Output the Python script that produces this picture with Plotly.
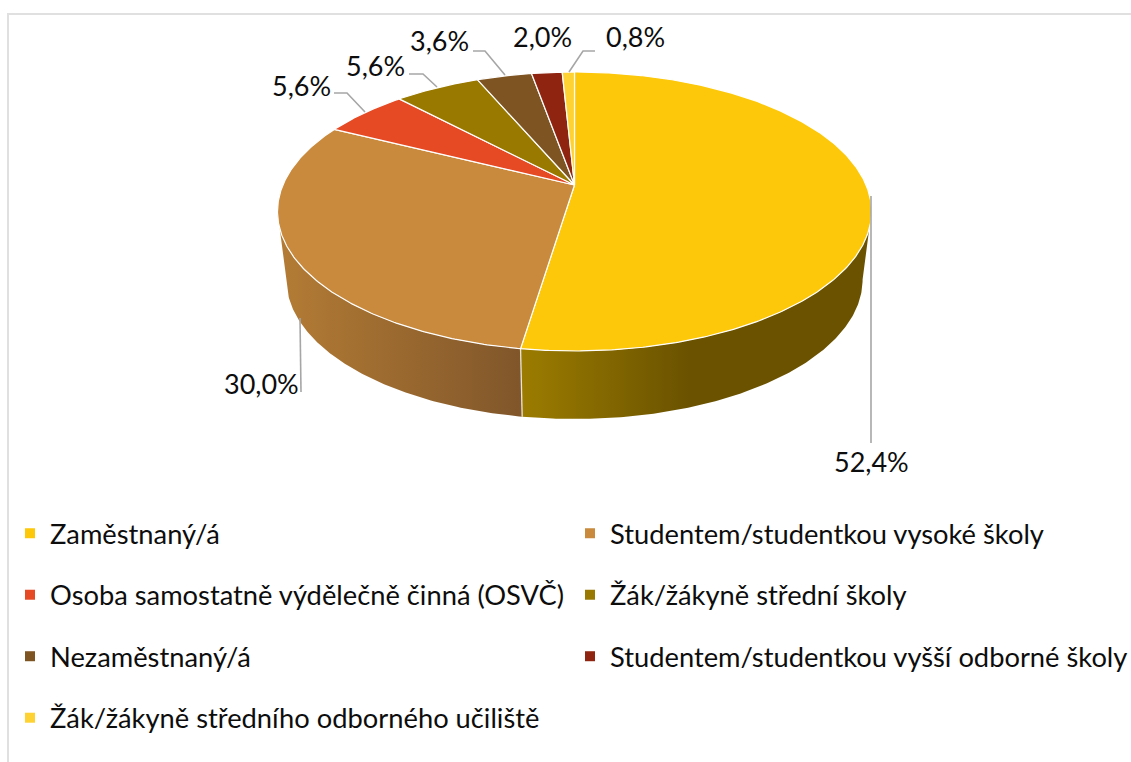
import numpy as np
import plotly.graph_objects as go

categories = [
    "Zaměstnaný/á",
    "Studentem/studentkou vysoké školy",
    "Osoba samostatně výdělečně činná (OSVČ)",
    "Žák/žákyně střední školy",
    "Nezaměstnaný/á",
    "Studentem/studentkou vyšší odborné školy",
    "Žák/žákyně středního odborného učiliště",
]
values = [52.4, 30.0, 5.6, 5.6, 3.6, 2.0, 0.8]
colors = ["#FDC80A", "#C98A3D", "#E64A25", "#997900", "#7F5423", "#8F2510", "#FFD233"]

W, H = 1131, 762
FONT = "Lato"
# perspective pie geometry (pixels)
CX, APEX_Y, RX, PERSP, YK = 574.5, 185.0, 291.6, 0.19, -99.3
DEPTH = 68.0
LOW_X = 0.97


def top_xy(theta):
    u, v = np.sin(theta), np.cos(theta)
    den = 1 + PERSP * v
    return CX + RX * u / den, (YK * v + APEX_Y) / den


def low_xy(theta):
    x, y = top_xy(theta)
    return CX + (x - CX) * LOW_X, y + DEPTH


edges = np.radians(np.cumsum([0] + values) * 3.6)
# angles where the disc outline is widest: the visible wall runs between them
TAN_A, TAN_B = np.arccos(-PERSP), 2 * np.pi - np.arccos(-PERSP)


def arc(a, b):
    return np.linspace(a, b, max(int(np.degrees(b - a)) * 2, 3))


fig = go.Figure()

# side walls that face the viewer (first two slices)
gradients = [
    [[0, "#9C7C00"], [0.48, "#6A5200"], [1, "#6A5200"]],
    [[0, "#B47C35"], [1, "#80562A"]],
]
for i, scale in enumerate(gradients):
    t = arc(max(edges[i], TAN_A), min(edges[i + 1], TAN_B))
    xa, ya = top_xy(t)
    xb, yb = low_xy(t[::-1])
    fig.add_trace(go.Scatter(
        x=np.r_[xa, xb], y=np.r_[ya, yb], mode="lines", fill="toself",
        line=dict(width=0), fillgradient=dict(type="horizontal", colorscale=scale),
        showlegend=False, hoverinfo="skip",
    ))
xa, ya = top_xy(edges[1])
xb, yb = low_xy(edges[1])
fig.add_trace(go.Scatter(x=[xa, xb], y=[ya, yb], mode="lines",
                         line=dict(color="#E8E4D8", width=1.3),
                         showlegend=False, hoverinfo="skip"))

# top face
for i, (cat, col) in enumerate(zip(categories, colors)):
    x, y = top_xy(arc(edges[i], edges[i + 1]))
    fig.add_trace(go.Scatter(
        x=np.r_[CX, x, CX], y=np.r_[APEX_Y, y, APEX_Y], mode="lines", fill="toself",
        fillcolor=col, line=dict(color="#FFFFFF", width=1.2),
        name=cat, showlegend=False, hoverinfo="name",
    ))

# leader lines
leaders = [
    ([871, 871], [196, 443]),
    ([300, 301], [318, 392]),
    ([334, 347, 365], [93, 93, 112]),
    ([409, 423, 437], [74, 74, 87]),
    ([473, 485, 505], [51, 51, 75]),
    ([595, 583, 569], [51, 51, 72]),
]
for lx, ly in leaders:
    fig.add_trace(go.Scatter(x=lx, y=ly, mode="lines", line=dict(color="#A6A6A6", width=1.6),
                             showlegend=False, hoverinfo="skip"))

# data labels
label_pos = [(871, 461), (261, 383), (301, 85), (375, 65), (439, 40), (542, 36), (635, 36)]
for v, (lx, ly) in zip(values, label_pos):
    fig.add_annotation(x=lx, y=ly, xref="x", yref="y", showarrow=False,
                       text=f"{v:.1f}".replace(".", ",") + "%",
                       font=dict(family=FONT, size=27, color="#0D0D0D"))

# legend entries: odd ones left column, even ones right column
for i, (cat, col) in enumerate(zip(categories, colors)):
    fig.add_trace(go.Scatter(
        x=[None], y=[None], mode="markers", name=cat,
        marker=dict(symbol="square", size=10, color=col),
        legend="legend" if i % 2 == 0 else "legend2",
        legendgroup=f"g{i}", showlegend=True,
    ))

legend_common = dict(
    orientation="v", xanchor="left", yanchor="top", y=1 - 509 / H,
    font=dict(family=FONT, size=27.3, color="#0D0D0D"),
    bgcolor="rgba(0,0,0,0)", borderwidth=0, tracegroupgap=23,
    itemsizing="trace", itemclick=False, itemdoubleclick=False,
)

fig.update_layout(
    width=W, height=H, margin=dict(l=0, r=0, t=0, b=0, autoexpand=False),
    paper_bgcolor="#FFFFFF", plot_bgcolor="#FFFFFF",
    xaxis=dict(range=[0, W], visible=False, fixedrange=True),
    yaxis=dict(range=[H, 0], visible=False, fixedrange=True),
    legend=dict(x=10 / W, **legend_common),
    legend2=dict(x=570 / W, **legend_common),
    shapes=[
        dict(type="line", xref="x", yref="y", x0=8, x1=8, y0=13, y1=H,
             line=dict(color="#E0E0E0", width=2)),
        dict(type="line", xref="x", yref="y", x0=8, x1=W, y0=14, y1=14,
             line=dict(color="#E0E0E0", width=2)),
    ],
)

fig.write_html("out.html", config={"displayModeBar": False},
               post_script="document.body.style.margin='0';document.body.style.overflow='hidden';")
